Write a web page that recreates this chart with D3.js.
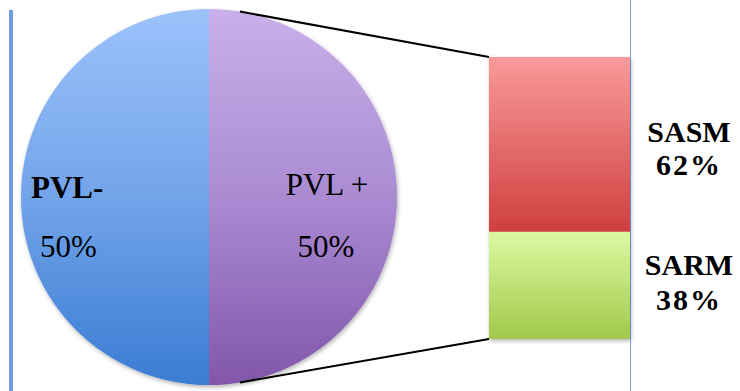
<!DOCTYPE html>
<html lang="en">
<head>
<meta charset="UTF-8">
<title>PVL / SASM SARM</title>
<script src="https://d3js.org/d3.v7.min.js"></script>
<style>
  body { margin: 0; background: #fff; }
  svg text { font-family: "Liberation Serif", "Times New Roman", Times, "DejaVu Serif", serif; fill: #000; }
</style>
</head>
<body>
<script>
// pie data
var pieLabels = ["PVL-", "PVL +"];
var pieValues = [50, 50];
// bar (breakdown of PVL +)
var barLabels = ["SASM", "SARM"];
var barValues = [62, 38];

var width = 740, height = 391;
var cx = 209, cy = 197, radius = 188;
var serif = "'Liberation Serif', 'Times New Roman', Times, 'DejaVu Serif', serif";

var svg = d3.select("body").append("svg")
    .attr("width", width)
    .attr("height", height);

var defs = svg.append("defs");

function vGrad(id, stops, y1, y2) {
  var g = defs.append("linearGradient").attr("id", id)
      .attr("gradientUnits", "userSpaceOnUse")
      .attr("x1", 0).attr("x2", 0).attr("y1", y1).attr("y2", y2);
  stops.forEach(function(s) {
    g.append("stop").attr("offset", s[0]).attr("stop-color", s[1]);
  });
}
// pie gradients live in the pie group's own coordinates (centred on 0,0)
vGrad("gBlue", [["0%", "#9cc2fa"], ["50%", "#72a4ea"], ["100%", "#3a7cd2"]], -radius, radius);
vGrad("gPurple", [["0%", "#c9b0ea"], ["50%", "#aa8bd2"], ["100%", "#8156ab"]], -radius, radius);

var shadow = defs.append("filter").attr("id", "shadow")
    .attr("x", "-10%").attr("y", "-10%").attr("width", "120%").attr("height", "120%");
shadow.append("feDropShadow").attr("dx", 1).attr("dy", 2)
    .attr("stdDeviation", 2).attr("flood-color", "#000").attr("flood-opacity", 0.3);

// thin side lines
svg.append("rect").attr("x", 9).attr("y", 10).attr("width", 4).attr("height", height - 10)
    .attr("fill", "#6f9be0");
svg.append("line").attr("x1", 630.5).attr("x2", 630.5).attr("y1", 0).attr("y2", height)
    .attr("stroke", "#7aa6ea").attr("stroke-width", 1);

// pie: PVL- on the left half, PVL + on the right
var pie = d3.pie().sort(null).startAngle(Math.PI).endAngle(3 * Math.PI);
var arc = d3.arc().innerRadius(0).outerRadius(radius);
var pieFills = ["url(#gBlue)", "url(#gPurple)"];

var gp = svg.append("g").attr("transform", "translate(" + cx + "," + cy + ")")
    .attr("filter", "url(#shadow)");
gp.selectAll("path")
  .data(pie(pieValues))
  .enter().append("path")
    .attr("d", arc)
    .attr("fill", function(d, i) { return pieFills[i]; });

// bar
var barX = 489, barW = 141;
var y = d3.scaleLinear().domain([0, 100]).range([57, 339]);
var stack = [];
var acc = 0;
barValues.forEach(function(v, i) {
  stack.push({ label: barLabels[i], value: v, y0: acc, y1: acc + v });
  acc += v;
});
vGrad("gRed", [["0%", "#fa9a9a"], ["100%", "#cf3f3e"]], y(stack[0].y0), y(stack[0].y1));
vGrad("gGreen", [["0%", "#dcf9a2"], ["100%", "#a1c94a"]], y(stack[1].y0), y(stack[1].y1));
var barFills = ["url(#gRed)", "url(#gGreen)"];

svg.append("g").attr("filter", "url(#shadow)")
  .selectAll("rect")
  .data(stack)
  .enter().append("rect")
    .attr("x", barX)
    .attr("width", barW)
    .attr("y", function(d) { return y(d.y0); })
    .attr("height", function(d) { return y(d.y1) - y(d.y0); })
    .attr("fill", function(d, i) { return barFills[i]; });

// connector lines from the pie edge to the bar corners
var a = 0.165;
var conn = [
  { x1: cx + radius * Math.sin(a), y1: cy - radius * Math.cos(a), x2: barX, y2: y(0) },
  { x1: cx + radius * Math.sin(a), y1: cy + radius * Math.cos(a), x2: barX, y2: y(100) }
];
svg.selectAll("line.conn").data(conn).enter().append("line")
    .attr("class", "conn")
    .attr("x1", function(d) { return d.x1; }).attr("y1", function(d) { return d.y1; })
    .attr("x2", function(d) { return d.x2; }).attr("y2", function(d) { return d.y2; })
    .attr("stroke", "#000").attr("stroke-width", 2);

function label(x, yy, txt, opts) {
  var t = svg.append("text").attr("x", x).attr("y", yy)
      .attr("font-family", serif)
      .style("font-family", serif)
      .style("font-size", opts.size + "px")
      .style("font-weight", opts.bold ? "bold" : "normal")
      .text(txt);
  if (opts.anchor) t.attr("text-anchor", opts.anchor);
  if (opts.spacing) t.style("letter-spacing", opts.spacing + "px");
  return t;
}

// pie labels
label(31, 198, pieLabels[0], { size: 31, bold: true });
label(40, 257, pieValues[0] + "%", { size: 31 });
label(327, 195, pieLabels[1], { size: 31, anchor: "middle" });
label(326, 257, pieValues[1] + "%", { size: 31, anchor: "middle" });

// bar labels
var labY = [[142, 175], [275, 310]];
stack.forEach(function(d, i) {
  label(689, labY[i][0], d.label, { size: 30, bold: true, anchor: "middle" });
  label(689, labY[i][1], d.value + "%", { size: 30, bold: true, anchor: "middle", spacing: 2 });
});
</script>
</body>
</html>
